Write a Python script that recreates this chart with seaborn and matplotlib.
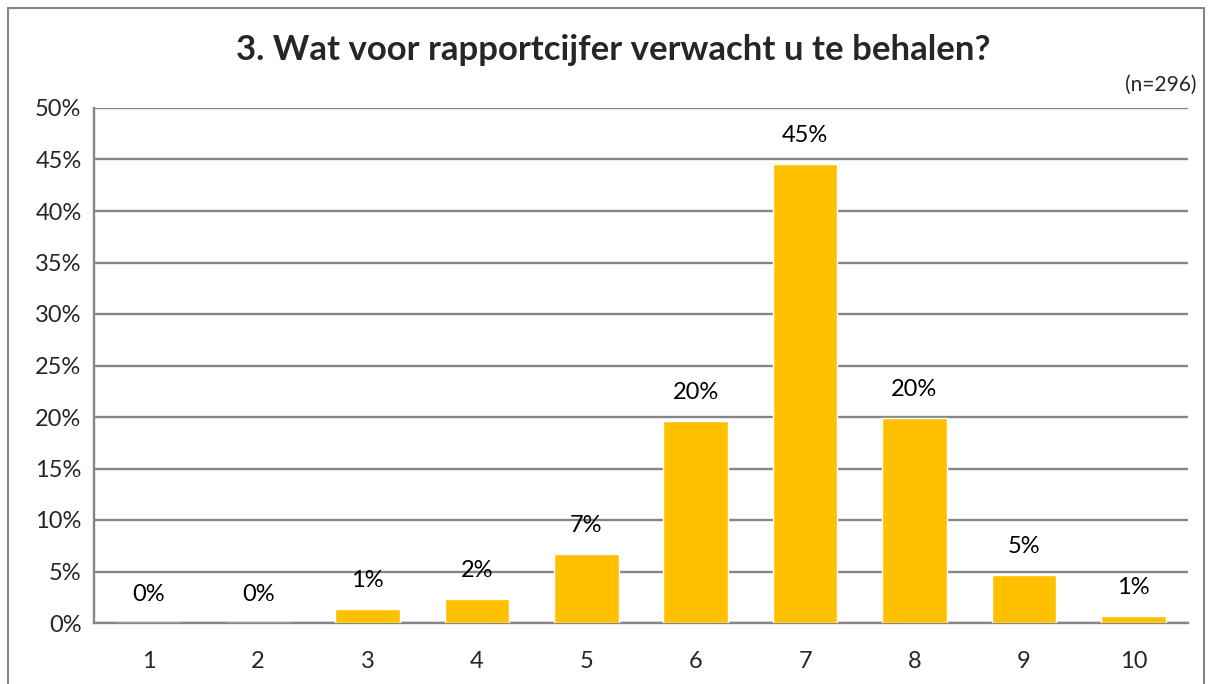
import matplotlib
matplotlib.use("Agg")
import matplotlib.pyplot as plt
import seaborn as sns
import pandas as pd
from matplotlib.lines import Line2D
from matplotlib.ticker import FixedLocator

# Data
grades = ["1", "2", "3", "4", "5", "6", "7", "8", "9", "10"]
percentages = [0.0, 0.0, 1.4, 2.3, 6.7, 19.6, 44.6, 19.9, 4.7, 0.7]
bar_labels = ["0%", "0%", "1%", "2%", "7%", "20%", "45%", "20%", "5%", "1%"]
y_ticks = [0, 5, 10, 15, 20, 25, 30, 35, 40, 45, 50]

df = pd.DataFrame({"cijfer": grades, "pct": percentages})

sns.set_style("white")
plt.rcParams["font.family"] = ["Lato", "DejaVu Sans"]

fig = plt.figure(figsize=(12.12, 6.84), dpi=100)
W, H = 1212, 684
ax = fig.add_axes([94 / W, 1 - 623 / H, (1188 - 94) / W, (623 - 108) / H])

sns.barplot(data=df, x="cijfer", y="pct", order=grades, color="#FFC000",
            saturation=1, width=0.59, ax=ax, zorder=3)

# bar labels
for i, (v, lab) in enumerate(zip(percentages, bar_labels)):
    ax.annotate(lab, (i, v), xytext=(0, 13), textcoords="offset points",
                ha="center", va="bottom", fontsize=17, color="black")

ax.set_ylim(0, 50)
ax.set_xlim(-0.5, len(grades) - 0.5)
ax.set_yticks(y_ticks)
ax.set_yticklabels([f"{t}%" for t in y_ticks])
ax.yaxis.grid(True, color="#868686", linewidth=1.7, zorder=0)
ax.set_axisbelow(True)
ax.set_xlabel("")
ax.set_ylabel("")

for side in ["top", "right"]:
    ax.spines[side].set_visible(False)
for side in ["left", "bottom"]:
    ax.spines[side].set_color("#868686")
    ax.spines[side].set_linewidth(1.7)

ax.tick_params(axis="y", which="major", length=6, width=1.2, color="#868686",
               labelsize=17, pad=3)
ax.tick_params(axis="x", which="major", length=0, labelsize=17, pad=20)
ax.xaxis.set_minor_locator(FixedLocator([i - 0.5 for i in range(len(grades) + 1)]))
ax.tick_params(axis="x", which="minor", length=8, width=1.2, color="#868686")

fig.text(613 / W, 1 - 50 / H, "3. Wat voor rapportcijfer verwacht u te behalen?",
         ha="center", va="center", fontsize=25, fontweight="bold")
fig.text(1197 / W, 1 - 85 / H, "(n=296)", ha="right", va="center", fontsize=15)

# outer chart frame
frame_kw = dict(color="#868686", linewidth=1.5, transform=fig.transFigure)
fig.add_artist(Line2D([8 / W, 8 / W], [0, 1 - 8 / H], **frame_kw))
fig.add_artist(Line2D([8 / W, 1204 / W], [1 - 8 / H, 1 - 8 / H], **frame_kw))
fig.add_artist(Line2D([1204 / W, 1204 / W], [0, 1 - 8 / H], **frame_kw))

fig.savefig("out.png", dpi=100)
